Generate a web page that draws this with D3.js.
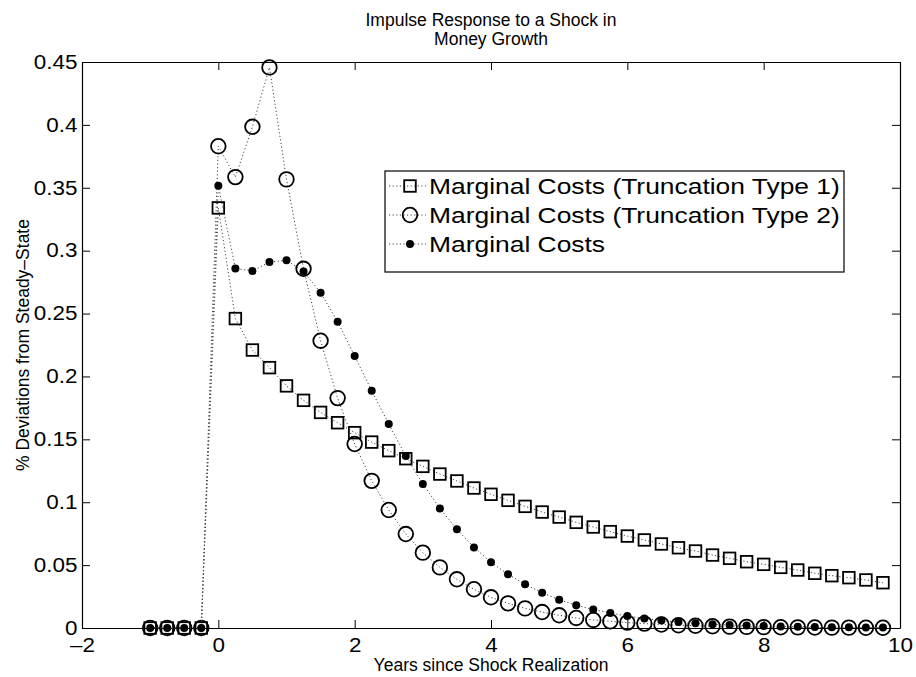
<!DOCTYPE html>
<html><head><meta charset="utf-8">
<script src="https://cdn.jsdelivr.net/npm/d3@7"></script>
<style>body{margin:0;background:#fff}svg{display:block}</style>
</head><body>
<svg id="chart" width="916" height="677"></svg>
<script>
const years = [-1,-0.75,-0.5,-0.25,0,0.25,0.5,0.75,1,1.25,1.5,1.75,2,2.25,2.5,2.75,3,3.25,3.5,3.75,4,4.25,4.5,4.75,5,5.25,5.5,5.75,6,6.25,6.5,6.75,7,7.25,7.5,7.75,8,8.25,8.5,8.75,9,9.25,9.5,9.75];
const mcTrunc1 = [0,0,0,0,0.334,0.246,0.221,0.207,0.1925,0.181,0.1714,0.1632,0.1553,0.1478,0.141,0.1346,0.1285,0.1224,0.1169,0.1113,0.1063,0.1015,0.0967,0.0922,0.0882,0.084,0.0803,0.0766,0.0731,0.070,0.0668,0.0638,0.0612,0.058,0.0554,0.0527,0.0506,0.0482,0.0461,0.0435,0.0416,0.040,0.0382,0.036];
const mcTrunc2 = [0,0,0,0,0.383,0.3585,0.3985,0.4457,0.3567,0.2856,0.2284,0.1828,0.1463,0.117,0.0938,0.0747,0.0599,0.0482,0.0387,0.0308,0.0244,0.0196,0.0156,0.0127,0.0101,0.008,0.0064,0.0053,0.0043,0.0035,0.0028,0.0022,0.0018,0.0014,0.0011,0.0009,0.0007,0.0006,0.0005,0.0004,0.0003,0.0003,0.0002,0.0002];
const mc = [0,0,0,0,0.3516,0.2859,0.2838,0.291,0.2923,0.2835,0.2666,0.2435,0.2162,0.1886,0.1622,0.1367,0.1145,0.0951,0.0785,0.0641,0.0522,0.0427,0.0347,0.0281,0.0225,0.0181,0.0147,0.012,0.0095,0.0075,0.006,0.0047,0.0038,0.003,0.0024,0.0019,0.0015,0.0012,0.001,0.0008,0.0006,0.0005,0.0004,0.0003];
const xTicks = [-2,0,2,4,6,8,10];
const xTickLabels = ["\u20132","0","2","4","6","8","10"];
const yTicks = [0,0.05,0.1,0.15,0.2,0.25,0.3,0.35,0.4,0.45];
const yTickLabels = ["0","0.05","0.1","0.15","0.2","0.25","0.3","0.35","0.4","0.45"];
const seriesNames = ["Marginal Costs (Truncation Type 1)","Marginal Costs (Truncation Type 2)","Marginal Costs"];
const markerTypes = ["square","circle","dot"];
const titleLines = ["Impulse Response to a Shock in","Money Growth"];
const xLabel = "Years since Shock Realization";
const yLabel = "% Deviations from Steady\u2013State";

const FONT = "'Liberation Sans', Arial, Helvetica, sans-serif";
const svg = d3.select("#chart");
const L = 82, R = 900, T = 62, B = 628;
const x = d3.scaleLinear().domain([-2,10]).range([L,R]);
const y = d3.scaleLinear().domain([0,0.45]).range([B,T]);

svg.append("rect").attr("width",916).attr("height",677).attr("fill","#fff");

// axes
const tickScale = "scale(1.15,1)";
const gx = svg.append("g").attr("transform",`translate(0,${B})`)
  .call(d3.axisBottom(x).tickValues(xTicks).tickFormat((d,i)=>xTickLabels[i]).tickSizeInner(-8).tickSizeOuter(0).tickPadding(10));
const gy = svg.append("g").attr("transform",`translate(${L},0)`)
  .call(d3.axisLeft(y).tickValues(yTicks).tickFormat((d,i)=>yTickLabels[i]).tickSizeInner(-8).tickSizeOuter(0).tickPadding(4));
const gt = svg.append("g").attr("transform",`translate(0,${T})`)
  .call(d3.axisTop(x).tickValues(xTicks).tickFormat("").tickSizeInner(-8).tickSizeOuter(0));
const gr = svg.append("g").attr("transform",`translate(${R},0)`)
  .call(d3.axisRight(y).tickValues(yTicks).tickFormat("").tickSizeInner(-8).tickSizeOuter(0));
[gx,gy,gt,gr].forEach(g=>{
  g.selectAll(".domain").attr("stroke","#000").attr("stroke-width",1.2);
  g.selectAll(".tick line").attr("stroke","#000").attr("stroke-width",1);
  g.selectAll("text").attr("font-family",FONT).attr("font-size",19.5).attr("fill","#000").attr("transform",tickScale);
});

// series
const series = [mcTrunc1, mcTrunc2, mc];
const line = d3.line().x((d,i)=>x(years[i])).y(d=>y(d));
const plot = svg.append("g");
function drawMarker(g, type, cx, cy){
  if(type==="square"){
    g.append("rect").attr("x",cx-5.8).attr("y",cy-5.8).attr("width",11.6).attr("height",11.6)
      .attr("fill","none").attr("stroke","#000").attr("stroke-width",1.8);
  } else if(type==="circle"){
    g.append("circle").attr("cx",cx).attr("cy",cy).attr("r",7.3)
      .attr("fill","none").attr("stroke","#000").attr("stroke-width",1.8);
  } else {
    g.append("circle").attr("cx",cx).attr("cy",cy).attr("r",4).attr("fill","#000");
  }
}
series.forEach((vals,si)=>{
  const g = plot.append("g");
  g.append("path").datum(vals).attr("d",line).attr("fill","none")
    .attr("stroke","#444").attr("stroke-width",1).attr("stroke-dasharray","1.2,2.4");
  vals.forEach((v,i)=>drawMarker(g, markerTypes[si], x(years[i]), y(v)));
});

// title and labels
svg.append("g").selectAll("text").data(titleLines).join("text")
  .attr("x",(L+R)/2).attr("y",(d,i)=>26+i*19).attr("text-anchor","middle")
  .attr("font-family",FONT).attr("font-size",17.5).attr("fill","#000").text(d=>d);
svg.append("text").attr("x",(L+R)/2).attr("y",671).attr("text-anchor","middle")
  .attr("font-family",FONT).attr("font-size",17.5).attr("fill","#000").text(xLabel);
svg.append("text").attr("transform",`translate(29,${(T+B)/2}) rotate(-90)`).attr("text-anchor","middle")
  .attr("font-family",FONT).attr("font-size",17.5).attr("fill","#000").text(yLabel);

// legend
const leg = svg.append("g");
leg.append("rect").attr("x",385).attr("y",171).attr("width",459).attr("height",101)
  .attr("fill","#fff").attr("stroke","#000").attr("stroke-width",1.2);
const rowY = [186,215,244];
const texts = [];
seriesNames.forEach((name,i)=>{
  const cy = rowY[i];
  leg.append("line").attr("x1",389).attr("x2",426).attr("y1",cy).attr("y2",cy)
    .attr("stroke","#444").attr("stroke-width",1).attr("stroke-dasharray","1.2,2.4");
  drawMarker(leg, markerTypes[i], 410, cy);
  const t = leg.append("text").attr("x",0).attr("y",0)
    .attr("font-family",FONT).attr("font-size",22).attr("fill","#000").text(name);
  texts.push({t, cy});
});
const natural = texts[0].t.node().getComputedTextLength();
const sx = 411/natural;
texts.forEach(({t,cy})=>t.attr("transform",`translate(429,${cy+8}) scale(${sx},1)`));
</script>
</body></html>
